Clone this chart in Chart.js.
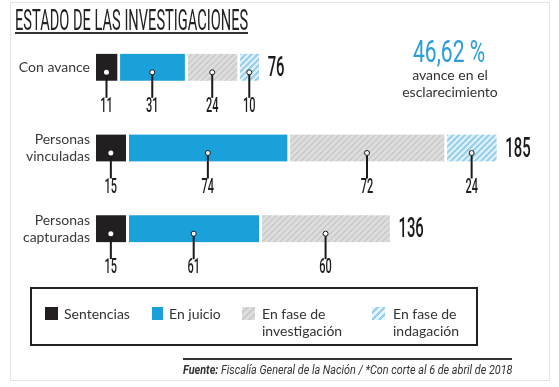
<!DOCTYPE html>
<html lang="es">
<head>
<meta charset="UTF-8">
<title>Estado de las investigaciones</title>
<script src="https://cdn.jsdelivr.net/npm/chart.js"></script>
<style>
  html, body { margin: 0; padding: 0; background: #fff; }
  body { width: 559px; height: 387px; position: relative; overflow: hidden; font-family: 'Lato', sans-serif; color: #3a3a3a; }
  #frame { position: absolute; left: 10px; top: 2px; width: 538px; height: 377px; border: 1px solid #e4e4ec; }
  #chart { position: absolute; left: 0; top: 0; }
  .fit { position: absolute; white-space: nowrap; display: inline-block; }
  #title { left: 15px; top: 5px; font: 400 30px/30px Roboto, sans-serif; color: #222; transform-origin: left center; }
  #rule { position: absolute; left: 15px; top: 32px; width: 233px; height: 2px; background: #333; }
  #pct { top: 36px; font: 400 31px/31px Roboto, sans-serif; color: #2b9ed6; transform-origin: center center; }
  #pctText { position: absolute; left: 380px; width: 140px; top: 66px; text-align: center; font: 400 14px/17px Lato, sans-serif; color: #333; }
  #legend { position: absolute; left: 30px; top: 287px; width: 444px; height: 55px; border: 2px solid #222; }
  .item { position: absolute; top: 16px; font: 400 14px/17px Lato, sans-serif; color: #333; }
  .sw { position: absolute; width: 13px; height: 13px; top: 2px; }
  .item span { position: absolute; left: 19px; white-space: nowrap; }
  #source { position: absolute; left: 183px; top: 358px; width: 329px; height: 2px; background: #333; }
  #src { top: 363px; font: italic 400 12px/14px Roboto, sans-serif; color: #333; transform-origin: right center; }
</style>
</head>
<body>
<div id="frame"></div>
<canvas id="chart" width="559" height="387"></canvas>
<div id="title" class="fit">ESTADO DE LAS INVESTIGACIONES</div>
<div id="rule"></div>
<div id="pct" class="fit">46,62 %</div>
<div id="pctText">avance en el<br>esclarecimiento</div>
<div id="legend">
  <div class="item" style="left:13px"><div class="sw" style="background:#231f20"></div><span>Sentencias</span></div>
  <div class="item" style="left:120px"><div class="sw" style="background:#1ba1d9;width:11px"></div><span style="left:17px">En juicio</span></div>
  <div class="item" style="left:210px"><div class="sw" style="background:repeating-linear-gradient(135deg,#dedede 0 3px,#cbcbcb 3px 5px)"></div><span style="left:20px">En fase de<br>investigación</span></div>
  <div class="item" style="left:340px"><div class="sw" style="background:repeating-linear-gradient(135deg,#e4f3fb 0 3px,#96cfec 3px 5px)"></div><span style="left:21px">En fase de<br>indagación</span></div>
</div>
<div id="source"></div>
<div id="src" class="fit"><b>Fuente:</b> Fiscalía General de la Nación / *Con corte al 6 de abril de 2018</div>

<script>
// values read from the graphic
const categories = ['Con avance', ['Personas', 'vinculadas'], ['Personas', 'capturadas']];
const sentencias = [11, 15, 15];
const enJuicio = [31, 74, 61];
const investigacion = [24, 72, 60];
const indagacion = [10, 24, null];
const totals = [76, 185, 136];

// fit the condensed html texts to the widths of the original
function fit(id, width, x, origin) {
  const el = document.getElementById(id);
  const w = el.offsetWidth;
  el.style.transform = 'scaleX(' + (width / w) + ')';
  if (origin === 'left') el.style.left = x + 'px';
  if (origin === 'right') el.style.left = (x - w) + 'px';
  if (origin === 'center') el.style.left = (x - w / 2) + 'px';
}
fit('title', 233, 15, 'left');
fit('pct', 72, 449, 'center');
fit('src', 329, 512, 'right');

function hatch(base, stripe, w) {
  const c = document.createElement('canvas');
  c.width = 6; c.height = 6;
  const g = c.getContext('2d');
  g.fillStyle = base; g.fillRect(0, 0, 6, 6);
  g.strokeStyle = stripe; g.lineWidth = w;
  g.beginPath();
  g.moveTo(-1, 7); g.lineTo(7, -1);
  g.moveTo(-1, 1); g.lineTo(1, -1);
  g.moveTo(5, 7); g.lineTo(7, 5);
  g.stroke();
  return g.createPattern(c, 'repeat');
}

function condText(ctx, text, x, y, size, scale, align) {
  ctx.save();
  ctx.font = '500 ' + size + 'px Roboto';
  ctx.textBaseline = 'middle';
  ctx.textAlign = align;
  ctx.translate(x, y);
  ctx.scale(scale, 1);
  ctx.fillText(text, 0, 0);
  ctx.restore();
}

// dots, leader lines, value labels and totals
const markers = {
  id: 'markers',
  afterDatasetsDraw(chart) {
    const ctx = chart.ctx;
    const ends = [];
    chart.data.datasets.forEach((ds, di) => {
      const meta = chart.getDatasetMeta(di);
      meta.data.forEach((bar, i) => {
        const v = ds.data[i];
        if (v == null) return;
        const p = bar.getProps(['x', 'y', 'base', 'height'], true);
        const cx = (p.base + p.x - 3) / 2;
        const dy = p.y + 5;
        const bottom = p.y + p.height / 2;
        ends[i] = Math.max(ends[i] || 0, p.x - 3);
        ctx.save();
        ctx.strokeStyle = '#1a1a1a';
        ctx.lineWidth = 2;
        ctx.beginPath(); ctx.moveTo(cx, dy); ctx.lineTo(cx, bottom + 17); ctx.stroke();
        ctx.fillStyle = '#fff';
        ctx.lineWidth = 1;
        ctx.beginPath(); ctx.arc(cx, dy, 2.5, 0, Math.PI * 2); ctx.fill();
        if (di > 0) ctx.stroke();
        ctx.fillStyle = '#1e1e1e';
        condText(ctx, String(v), cx, bottom + 26, 20, 0.55, 'center');
        ctx.restore();
      });
    });
    const meta0 = chart.getDatasetMeta(0);
    totals.forEach((t, i) => {
      ctx.fillStyle = '#1a1a1a';
      condText(ctx, String(t), ends[i] + 9, meta0.data[i].y + 2, 27, 0.55, 'left');
    });
  }
};

const border = { top: 0, bottom: 0, left: 0, right: 3 };

new Chart(document.getElementById('chart'), {
  type: 'bar',
  data: {
    labels: categories,
    datasets: [
      { label: 'Sentencias', data: sentencias, backgroundColor: '#231f20' },
      { label: 'En juicio', data: enJuicio, backgroundColor: '#1ba1d9' },
      { label: 'En fase de investigación', data: investigacion, backgroundColor: hatch('#dedede', '#cbcbcb', 1.6) },
      { label: 'En fase de indagación', data: indagacion, backgroundColor: hatch('#e4f3fb', '#96cfec', 2.2) }
    ].map(d => Object.assign(d, { borderWidth: border, borderColor: '#fff', borderSkipped: false, barThickness: 27 }))
  },
  options: {
    indexAxis: 'y',
    responsive: false,
    animation: false,
    devicePixelRatio: 1,
    layout: { padding: { top: 27, bottom: 118, left: 0, right: 27 } },
    plugins: { legend: { display: false }, tooltip: { enabled: false } },
    scales: {
      x: { stacked: true, display: false, min: 0, max: 200 },
      y: {
        stacked: true,
        grid: { display: false, drawTicks: false },
        border: { display: false },
        ticks: { color: '#3a3a3a', font: { family: 'Lato', size: 14 }, padding: 6 },
        afterFit(s) { s.width = 96; }
      }
    }
  },
  plugins: [markers]
});
</script>
</body>
</html>
